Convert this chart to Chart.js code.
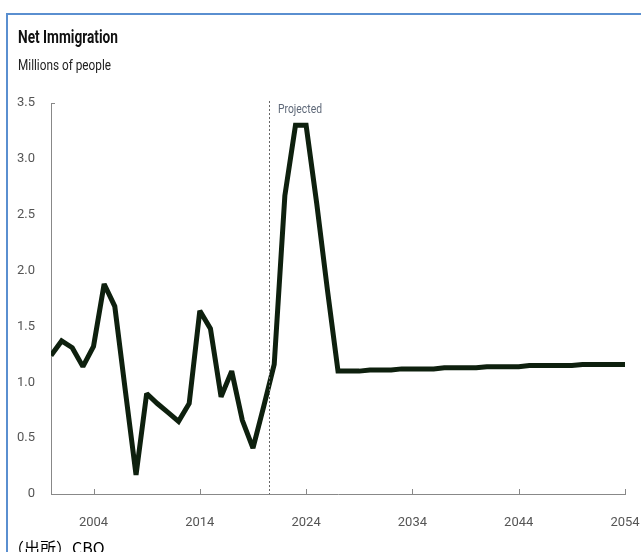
<!DOCTYPE html>
<html>
<head>
<meta charset="utf-8">
<script src="https://cdn.jsdelivr.net/npm/chart.js@4.4.1/dist/chart.umd.min.js"></script>
<style>
  html, body { margin: 0; padding: 0; background: #fff; }
  body { width: 641px; height: 552px; position: relative; overflow: hidden; }
  #frame { position: absolute; left: 6px; top: 13px; width: 700px; height: 600px;
           border-left: 2px solid #5a8fd0; border-top: 2px solid #5a8fd0; box-sizing: border-box; }
  #chartBox { position: absolute; left: 0; top: 0; width: 641px; height: 552px; }
  .txt { position: absolute; white-space: nowrap; font-family: Roboto, "Liberation Sans", sans-serif; color: #111; transform-origin: 0 0; display: inline-block; }
  #title { left: 18px; font-size: 18px; line-height: 18px; font-weight: bold; }
  #subtitle { left: 18px; font-size: 14.5px; line-height: 14.5px; color: #222; }
  #source { left: 8px; top: 539px; font-size: 16px; line-height: 16px; font-family: "Noto Sans CJK JP", sans-serif; color: #000; }
</style>
</head>
<body>
<div id="frame"></div>
<div id="chartBox"><canvas id="c" width="641" height="552"></canvas></div>
<div id="title" class="txt">Net Immigration</div>
<div id="subtitle" class="txt">Millions of people</div>
<div id="source" class="txt">（出所）CBO</div>
<script>
// ---- data ----
const years = [];
for (let y = 2000; y <= 2054; y++) years.push(y);
const netImmigration = [
  1.24, 1.37, 1.31, 1.14, 1.32, 1.88, 1.68, 0.92, 0.17, 0.90,
  0.81, 0.73, 0.65, 0.81, 1.64, 1.48, 0.87, 1.10, 0.66, 0.41,
  0.78, 1.16, 2.67, 3.30, 3.30, 2.60, 1.83, 1.10, 1.10, 1.10,
  1.11, 1.11, 1.11, 1.12, 1.12, 1.12, 1.12, 1.13, 1.13, 1.13,
  1.13, 1.14, 1.14, 1.14, 1.14, 1.15, 1.15, 1.15, 1.15, 1.15,
  1.16, 1.16, 1.16, 1.16, 1.16
];
const xTickYears = [2004, 2014, 2024, 2034, 2044, 2054];
const yTickValues = [0, 0.5, 1.0, 1.5, 2.0, 2.5, 3.0, 3.5];
const projectionStart = 2020.5;
const projectedLabel = "Projected";

// condense header texts (reference uses a narrow typeface)
function condense(id, targetWidth, baseline) {
  const el = document.getElementById(id);
  const w = el.getBoundingClientRect().width;
  el.style.transform = 'scaleX(' + (targetWidth / w) + ')';
  if (baseline !== undefined) {
    const fs = parseFloat(getComputedStyle(el).fontSize);
    el.style.top = (baseline - fs * 0.86) + 'px';
  }
}
condense('title', 100, 43);
condense('subtitle', 93, 71.7);

const points = years.map((y, i) => ({ x: y, y: netImmigration[i] }));
const tickFont = { family: "Roboto, 'Liberation Sans', sans-serif", size: 13 };

const decor = {
  id: 'decor',
  beforeDatasetsDraw(chart) {
    chart.ctx.miterLimit = 2;
  },
  afterDraw(chart) {
    const { ctx, chartArea, scales } = chart;
    const xs = scales.x;
    ctx.save();
    ctx.strokeStyle = '#888';
    ctx.lineWidth = 1;
    ctx.beginPath();
    xTickYears.forEach(v => {
      const px = Math.round(xs.getPixelForValue(v)) + 0.5;
      ctx.moveTo(px, chartArea.bottom);
      ctx.lineTo(px, chartArea.bottom - 5);
    });
    ctx.moveTo(chartArea.left, chartArea.top + 0.5);
    ctx.lineTo(chartArea.left + 4, chartArea.top + 0.5);
    ctx.stroke();
    const dx = Math.round(xs.getPixelForValue(projectionStart)) + 0.5;
    ctx.strokeStyle = '#666';
    ctx.setLineDash([2, 2]);
    ctx.beginPath();
    ctx.moveTo(dx, chartArea.top - 2);
    ctx.lineTo(dx, chartArea.bottom);
    ctx.stroke();
    ctx.setLineDash([]);
    ctx.fillStyle = '#5e6878';
    ctx.font = "13.5px Roboto, 'Liberation Sans', sans-serif";
    ctx.textBaseline = 'middle';
    ctx.textAlign = 'left';
    const tw = ctx.measureText(projectedLabel).width;
    const tx = dx + 8.5;
    ctx.translate(tx, chartArea.top + 7);
    ctx.scale(44 / tw, 1);
    ctx.fillText(projectedLabel, 0, 0);
    ctx.restore();
  }
};

new Chart(document.getElementById('c'), {
  type: 'line',
  data: {
    datasets: [{
      data: points,
      borderColor: '#0e200e',
      borderWidth: 5,
      pointRadius: 0,
      tension: 0,
      borderJoinStyle: 'miter',
      fill: false
    }]
  },
  options: {
    responsive: false,
    animation: false,
    layout: { padding: { top: 103, right: 0, bottom: 0, left: 0 } },
    plugins: { legend: { display: false }, tooltip: { enabled: false }, title: { display: false } },
    scales: {
      x: {
        type: 'linear',
        min: 2000,
        max: 2054,
        afterBuildTicks: (axis) => { axis.ticks = xTickYears.map(v => ({ value: v })); },
        afterFit: (axis) => { axis.height = 58; axis.paddingRight = 16; axis.paddingLeft = 0; },
        grid: { display: false, drawTicks: false },
        border: { display: true, color: '#888', width: 1 },
        ticks: { color: '#555', font: tickFont, padding: 21, maxRotation: 0, autoSkip: false,
                 callback: (v) => String(v) }
      },
      y: {
        min: 0,
        max: 3.5,
        afterBuildTicks: (axis) => { axis.ticks = yTickValues.map(v => ({ value: v })); },
        afterFit: (axis) => { axis.width = 51; },
        grid: { display: false, drawTicks: false },
        border: { display: true, color: '#888', width: 1 },
        ticks: { color: '#555', font: tickFont, padding: 16,
                 callback: (v) => v === 0 ? '0' : Number(v).toFixed(1) }
      }
    }
  },
  plugins: [decor]
});
</script>
</body>
</html>
